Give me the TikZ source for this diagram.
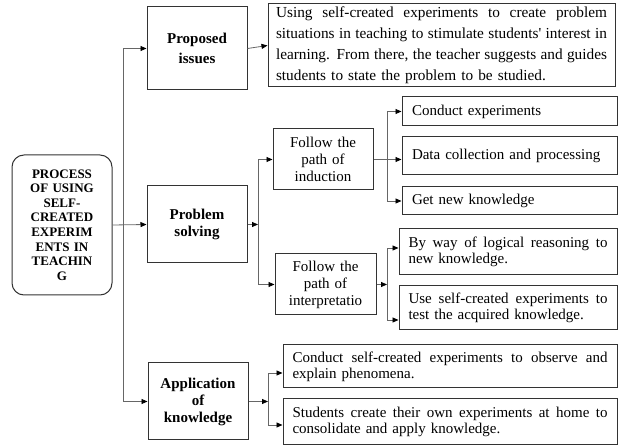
\documentclass[tikz,border=0pt]{standalone}
\usepackage{fontspec}
\setmainfont{Liberation Serif}
\usetikzlibrary{arrows.meta,calc}
\newcommand{\jline}[2]{\makebox[#1][s]{\spaceskip=0pt\xspaceskip=0pt #2}}
\begin{document}
\begin{tikzpicture}[x=1pt,y=-1pt,
  box/.style={draw=black!80, line width=1pt, inner ysep=2pt, font=\fontsize{15}{17}\selectfont},
  bbox/.style={box, text width=90pt, inner xsep=5pt, align=center, font=\bfseries\fontsize{15}{17}\selectfont},
  sbox/.style={box, text width=195pt, inner xsep=10pt, align=left},
  mbox/.style={box, inner xsep=9.5pt, align=left, font=\fontsize{15}{16}\selectfont},
  conn/.style={draw=black!60, line width=0.8pt},
  arr/.style={conn, -{Triangle[length=6pt,width=5pt,color=black]}}]
\useasboundingbox (0,0) rectangle (619,446);

\node[box, rounded corners=12pt, text width=92pt, inner xsep=4pt, minimum height=140pt, align=center, font=\bfseries\fontsize{13}{14.6}\selectfont] (root) at (62,225) {PROCESS\\OF USING\\SELF-\\CREATED\\EXPERIM\\ENTS IN\\TEACHIN\\G};

\node[bbox, minimum height=83pt, font=\bfseries\fontsize{15}{20}\selectfont] (prop) at (197,48.5) {Proposed\\issues};
\node[box, text width=331pt, inner xsep=8pt, minimum height=83pt, align=left, font=\fontsize{15.3}{21}\selectfont] (ptxt) at (441.5,45.5) {\jline{331pt}{Using self-created experiments to create problem}\\\jline{331pt}{situations in teaching to stimulate students\textquotesingle{} interest in}\\\jline{331pt}{learning. From there, the teacher suggests and guides}\\students to state the problem to be studied.};

\node[bbox, minimum height=77pt] (solve) at (197,224.5) {Problem\\solving};
\node[box, text width=90pt, inner xsep=5pt, minimum height=61pt, align=center] (ind) at (323,159.5) {Follow the\\path of\\induction};
\node[box, text width=91pt, inner xsep=5pt, minimum height=61pt, align=center] (interp) at (325.5,284.5) {Follow the\\path of\\interpretatio};

\node[sbox, minimum height=29pt] (ce) at (509.5,111.5) {Conduct experiments};
\node[sbox, minimum height=38pt] (dc) at (509.5,156) {Data collection and processing};
\node[sbox, minimum height=28pt] (gk) at (509.5,201) {Get new knowledge};

\node[mbox, text width=199pt, minimum height=46pt] (bw) at (508,252) {\jline{199pt}{By way of logical reasoning to}\\new knowledge.};
\node[mbox, text width=199pt, minimum height=44pt] (us) at (508,308) {\jline{199pt}{Use self-created experiments to}\\test the acquired knowledge.};

\node[bbox, minimum height=77pt] (app) at (198,401.5) {Application\\of\\knowledge};
\node[mbox, text width=315pt, minimum height=43pt] (cs) at (450,366.5) {\jline{315pt}{Conduct self-created experiments to observe and}\\explain phenomena.};
\node[mbox, text width=315pt, minimum height=46pt] (st) at (450,422) {\jline{315pt}{Students create their own experiments at home to}\\consolidate and apply knowledge.};

\coordinate (tr) at (123,225);
\draw[arr] (root.east) -- (solve.west);
\draw[arr] (tr) |- (prop.west);
\draw[arr] (tr) |- (app.west);
\draw[arr] (prop.east) -- (ptxt.west);

\coordinate (b1) at (258,224.5);
\draw[arr] (solve.east) -- (b1);
\draw[arr] (b1) |- (ind.west);
\draw[arr] (b1) |- (interp.west);

\coordinate (b2) at (387,159.5);
\draw[arr] (ind.east) -- (ind.east -| dc.west);
\draw[arr] (b2) |- (ce.west);
\draw[arr] (b2) |- (gk.west);

\coordinate (b3) at (387,284.5);
\draw[arr] (interp.east) -- (b3);
\draw[arr] (b3) |- ([yshift=4pt]bw.west);
\draw[arr] (b3) |- ([yshift=-12pt]us.west);

\coordinate (b4) at (268,401.5);
\draw[arr] (app.east) -- (b4);
\draw[arr] (b4) |- ([yshift=-6.5pt]cs.west);
\draw[arr] (b4) |- ([yshift=-3pt]st.west);
\end{tikzpicture}
\end{document}
